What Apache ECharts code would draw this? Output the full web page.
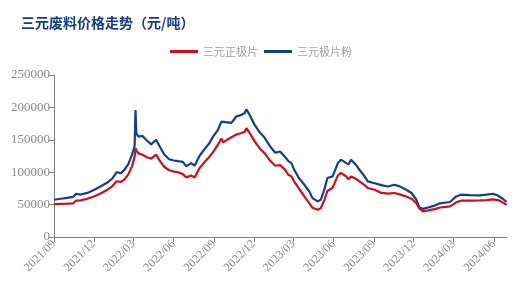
<!DOCTYPE html>
<html>
<head>
<meta charset="utf-8">
<script src="https://cdn.jsdelivr.net/npm/echarts@6/dist/echarts.min.js"></script>
<style>html,body{margin:0;padding:0;background:#fff}#c{width:522px;height:295px}</style>
</head>
<body>
<div id="c"></div>
<script>
var titleText = '三元废料价格走势（元/吨）';
var seriesNames = ['三元正极片', '三元极片粉'];
var dates = [
 '2021-09-01','2021-09-16','2021-10-01','2021-10-15','2021-10-21','2021-11-01','2021-11-16','2021-12-01','2021-12-16',
 '2022-01-01','2022-01-13','2022-01-22','2022-02-01','2022-02-09','2022-02-18','2022-02-26','2022-03-04','2022-03-06',
 '2022-03-08','2022-03-13','2022-03-22','2022-04-01','2022-04-11','2022-04-22','2022-05-01','2022-05-11','2022-05-22',
 '2022-06-01','2022-06-11','2022-06-22','2022-06-30','2022-07-11','2022-07-19','2022-07-30','2022-08-11','2022-08-22',
 '2022-08-30','2022-09-10','2022-09-18','2022-09-22','2022-10-01','2022-10-11','2022-10-22','2022-11-01','2022-11-10',
 '2022-11-14','2022-11-22','2022-12-03','2022-12-14','2022-12-26','2023-01-07','2023-01-19','2023-01-30','2023-02-10',
 '2023-02-18','2023-02-25','2023-03-03','2023-03-14','2023-03-26','2023-04-07','2023-04-14','2023-04-26','2023-05-03',
 '2023-05-11','2023-05-18','2023-05-30','2023-06-11','2023-06-18','2023-06-30','2023-07-05','2023-07-11','2023-07-22',
 '2023-07-30','2023-08-11','2023-08-18','2023-09-03','2023-09-18','2023-10-03','2023-10-18','2023-10-30','2023-11-14',
 '2023-11-26','2023-12-07','2023-12-14','2023-12-22','2024-01-03','2024-01-18','2024-01-30','2024-02-22','2024-03-07',
 '2024-03-18','2024-04-07','2024-04-30','2024-05-15','2024-05-30','2024-06-11','2024-06-22','2024-06-30'
];
var cathodeSheet = [
 50500,51000,51500,52000,56000,56500,59000,62500,67000,
 73000,79000,86000,85000,89000,97000,109000,124000,137000,
 133000,129000,127000,123000,121000,127000,117000,108000,103000,
 101000,100000,97000,92000,95000,92000,106000,116000,124000,
 131000,142000,152000,146000,150000,154000,158000,160000,162000,
 168000,160000,147500,137000,129000,118000,110000,111000,104000,
 96000,93500,86000,75000,63000,52000,45000,42000,44500,
 57000,71000,76000,95000,98800,93500,89000,93500,90000,
 85800,80000,75600,73000,68000,66800,67900,65800,62500,
 59000,52000,44000,39500,41000,43000,45500,47200,53500,
 56000,56000,56500,57000,58000,57000,53000,49800
];
var electrodePowder = [
 57500,59000,60500,62000,66500,65500,68000,72500,78000,
 84000,91000,100000,98500,104000,113000,127000,140000,196000,
 160000,155000,156000,149000,143000,150000,139000,127000,120000,
 118000,117000,116000,109000,114000,110000,125000,136000,145000,
 155000,165000,178000,181000,177000,176000,186000,188000,191000,
 197000,188000,173000,162000,153000,140000,130000,132000,124000,
 117000,114000,104000,91000,81000,70000,60000,55000,57500,
 73000,91000,93500,114000,119300,114000,112000,119300,111600,
 103800,93500,85800,83000,80000,78000,80700,78100,73000,
 67900,57500,45500,43500,45500,48500,52000,54000,62600,
 65300,64500,64200,65300,66800,63700,58600,54000
];
var tickDates = ['2021-09-01','2021-12-01','2022-03-01','2022-06-01','2022-09-01','2022-12-01',
                 '2023-03-01','2023-06-01','2023-09-01','2023-12-01','2024-03-01','2024-06-01'];
var tickLabels = ['2021/09','2021/12','2022/03','2022/06','2022/09','2022/12',
                  '2023/03','2023/06','2023/09','2023/12','2024/03','2024/06'];
var xMinDate = '2021-09-01', xMaxDate = '2024-07-01';
var yMin = 0, yMax = 250000, yStep = 50000;

// day offset from the axis start (pure date arithmetic, UTC)
function dayNo(s){ var p = s.split('-'); return Date.UTC(+p[0], +p[1]-1, +p[2]) / 86400000; }
var d0 = dayNo(xMinDate);
function dx(s){ return dayNo(s) - d0; }
var tickPos = tickDates.map(dx);

var chart = echarts.init(document.getElementById('c'), null, {renderer:'canvas'});
var grey = '#808080';
var serif = '"Liberation Serif", "Noto Sans CJK SC", serif';
chart.setOption({
  animation: false,
  backgroundColor: '#fff',
  title: {
    text: titleText, left: 16, top: 11,
    textStyle: {fontSize: 14, fontWeight: 'bold', color: '#163c82', fontFamily: '"Noto Sans CJK SC", sans-serif'}
  },
  legend: {
    data: [seriesNames[0], seriesNames[1]],
    left: 'center', top: 41,
    icon: 'rect', itemWidth: 28, itemHeight: 3, itemGap: 6,
    textStyle: {fontSize: 11, color: '#a0a0a0', fontFamily: '"Noto Sans CJK SC", sans-serif'}
  },
  grid: {left: 54, right: 15, top: 75, bottom: 58, containLabel: false},
  xAxis: {
    type: 'value', min: 0, max: dx(xMaxDate),
    axisLine: {show: true, onZero: false, lineStyle: {color: grey, width: 1}},
    axisTick: {show: true, length: 5, lineStyle: {color: grey}, customValues: tickPos},
    axisLabel: {
      customValues: tickPos, rotate: 45, color: '#8a8a8a', fontSize: 12, fontFamily: serif, margin: 5,
      formatter: function (v) { var i = tickPos.indexOf(Math.round(v)); return i >= 0 ? tickLabels[i] : ''; }
    },
    splitLine: {show: false}
  },
  yAxis: {
    type: 'value', min: yMin, max: yMax, interval: yStep,
    axisLine: {show: true, lineStyle: {color: grey, width: 1}},
    axisTick: {show: true, length: 5, lineStyle: {color: grey}},
    axisLabel: {color: '#8a8a8a', fontSize: 13, fontFamily: serif, margin: 4,
      formatter: function (v) { return String(v); }},
    splitLine: {show: false}
  },
  series: [
    {name: seriesNames[0], type: 'line', showSymbol: false, symbol: 'none',
     lineStyle: {color: '#c8101e', width: 2.2}, itemStyle: {color: '#c8101e'},
     data: dates.map(function (d, i) { return [dx(d), cathodeSheet[i]]; }), z: 3},
    {name: seriesNames[1], type: 'line', showSymbol: false, symbol: 'none',
     lineStyle: {color: '#123f87', width: 2.2}, itemStyle: {color: '#123f87'},
     data: dates.map(function (d, i) { return [dx(d), electrodePowder[i]]; }), z: 2}
  ]
});
</script>
</body>
</html>
